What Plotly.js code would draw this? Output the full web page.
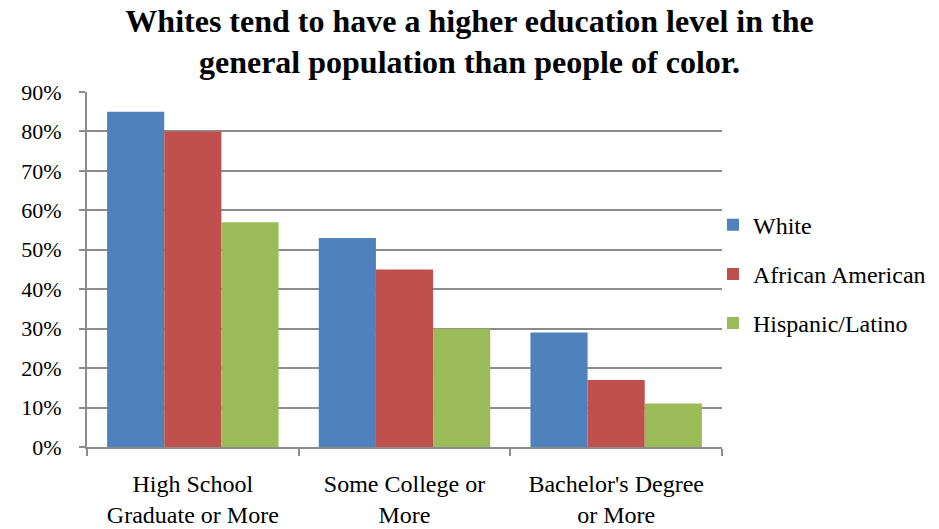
<!DOCTYPE html>
<html>
<head>
<meta charset="utf-8">
<script src="https://cdn.plot.ly/plotly-3.0.1.min.js"></script>
<style>
  html, body { margin: 0; padding: 0; background: #fff; }
  #chart { width: 939px; height: 529px; }
</style>
</head>
<body>
<div id="chart"></div>
<script>
// Education attainment by group (share of population)
const categories = ["High School Graduate or More", "Some College or More", "Bachelor's Degree or More"];
const tickLabels = ["High School<br>Graduate or More", "Some College or<br>More", "Bachelor's Degree<br>or More"];
const seriesNames = ["White", "African American", "Hispanic/Latino"];
const white = [0.85, 0.53, 0.29];
const africanAmerican = [0.80, 0.45, 0.17];
const hispanicLatino = [0.57, 0.30, 0.11];
const yTicks = [0, 0.1, 0.2, 0.3, 0.4, 0.5, 0.6, 0.7, 0.8, 0.9];

const colors = ["#4F81BD", "#C0504D", "#9BBB59"];
const values = [white, africanAmerican, hispanicLatino];
const FONT = "Liberation Serif";
const GRID = "#8c8c8c";

const traces = seriesNames.map((name, i) => ({
  type: "bar",
  name: name,
  x: categories,
  y: values[i],
  legendgroup: "g" + i,
  marker: { color: colors[i], line: { width: 0 } },
  hoverinfo: "x+y+name"
}));

const layout = {
  width: 939,
  height: 529,
  paper_bgcolor: "#ffffff",
  plot_bgcolor: "#ffffff",
  margin: { l: 87, r: 217, t: 92, b: 82, pad: 0, autoexpand: false },
  font: { family: FONT, color: "#000000", size: 20 },
  title: {
    text: "<b>Whites tend to have a higher education level in the<br>general population than people of color.</b>",
    font: { family: FONT, size: 32, color: "#000000" },
    xref: "container", x: 0.5, xanchor: "center",
    yref: "container", y: 0.94, yanchor: "top"
  },
  barmode: "group",
  bargap: 0.19,
  bargroupgap: 0,
  xaxis: {
    type: "category",
    tickmode: "array",
    tickvals: categories,
    ticktext: tickLabels,
    tickson: "boundaries",
    ticks: "outside",
    ticklen: 7,
    tickwidth: 2,
    tickcolor: GRID,
    showline: true,
    linecolor: GRID,
    linewidth: 2,
    showgrid: false,
    zeroline: false,
    tickfont: { family: FONT, size: 24, color: "#000000" },
    ticklabelstandoff: 14
  },
  yaxis: {
    range: [0, 0.9],
    tickmode: "array",
    tickvals: yTicks,
    tickformat: ".0%",
    ticks: "outside",
    ticklen: 6,
    tickwidth: 2,
    tickcolor: GRID,
    showline: true,
    linecolor: GRID,
    linewidth: 2,
    showgrid: true,
    gridcolor: GRID,
    gridwidth: 2,
    zeroline: false,
    tickfont: { family: FONT, size: 22, color: "#000000" },
    ticklabelstandoff: 13
  },
  legend: {
    xref: "container",
    x: 0.7593, xanchor: "left",
    y: 0.487, yanchor: "middle",
    font: { family: FONT, size: 24, color: "#000000" },
    traceorder: "grouped",
    tracegroupgap: 15,
    bgcolor: "rgba(0,0,0,0)"
  },
  showlegend: true
};

Plotly.newPlot("chart", traces, layout, { displayModeBar: false, staticPlot: true });
</script>
</body>
</html>
